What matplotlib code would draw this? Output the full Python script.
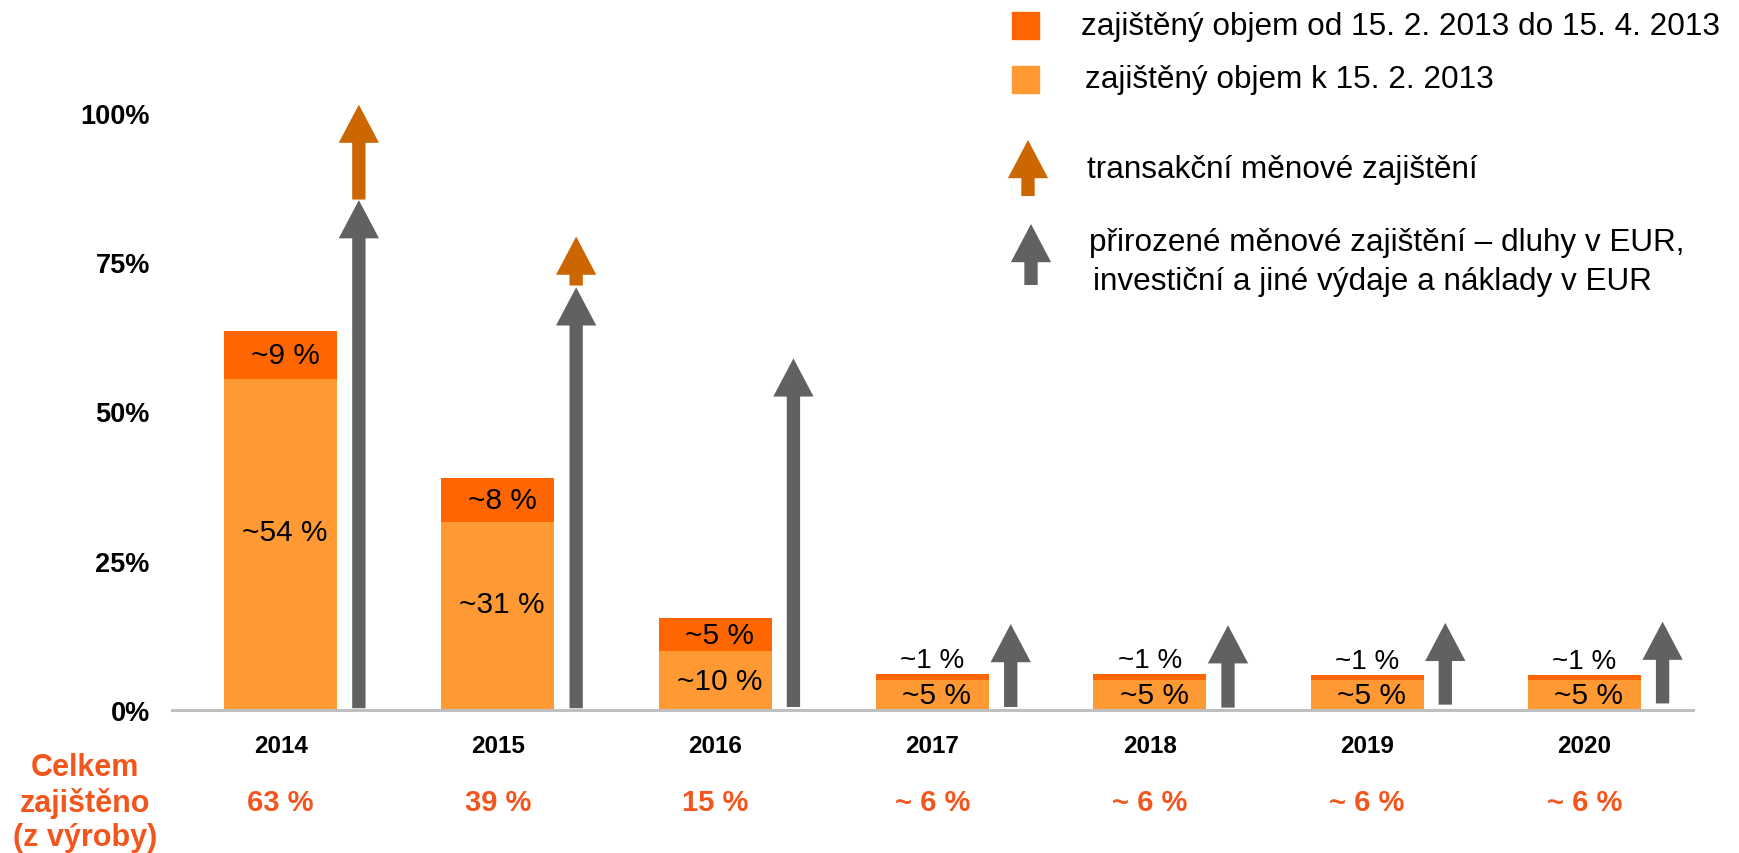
import matplotlib.pyplot as plt
from matplotlib.patches import FancyArrowPatch, Rectangle
from matplotlib.transforms import blended_transform_factory

plt.rcParams['font.family'] = ['Liberation Sans', 'DejaVu Sans']

# data
roky = ['2014', '2015', '2016', '2017', '2018', '2019', '2020']
objem_k_15_2 = [55.5, 31.5, 9.8, 5.1, 5.1, 5.0, 5.0]
objem_od_15_2 = [8.0, 7.4, 5.6, 1.0, 1.0, 0.9, 0.9]
popisky_k = ['~54 %', '~31 %', '~10 %', '~5 %', '~5 %', '~5 %', '~5 %']
popisky_od = ['~9 %', '~8 %', '~5 %', '~1 %', '~1 %', '~1 %', '~1 %']
celkem = ['63 %', '39 %', '15 %', '~ 6 %', '~ 6 %', '~ 6 %', '~ 6 %']
prirozene_od = [0.3, 0.3, 0.5, 0.5, 0.4, 0.9, 1.1]
prirozene_do = [85.4, 70.8, 58.9, 14.4, 14.2, 14.6, 14.8]
transakcni_od = [85.5, 71.1]
transakcni_do = [101.4, 79.3]

SVETLA = '#FF9933'
TMAVA = '#FF6600'
SEDA = '#616161'
HNEDA = '#CC6600'
CERVENA = '#F2561D'

W, H = 1739, 854
fig = plt.figure(figsize=(W / 100, H / 100), dpi=100)
ax = fig.add_axes([172 / W, 1 - 711 / H, (1693 - 172) / W, 711 / H])
x = list(range(len(roky)))

ax.bar(x, objem_k_15_2, width=0.52, color=SVETLA)
ax.bar(x, objem_od_15_2, width=0.52, bottom=objem_k_15_2, color=TMAVA)

for i in x:
    k = objem_k_15_2[i]
    od = objem_od_15_2[i]
    # popisek spodni casti trochu nad stredem, jako v originale
    yk = k / 2 + (2.0 if k > 20 else 0)
    ax.text(i + 0.02, yk, popisky_k[i], ha='center', va='center', fontsize=21.5)
    if od > 3:
        ax.text(i + 0.02, k + od / 2, popisky_od[i], ha='center', va='center', fontsize=21.5)
    else:
        ax.text(i, k + od + 0.1, popisky_od[i], ha='center', va='bottom', fontsize=20)


def sipka(x0, y0, x1, y1, barva, transform=None):
    kw = {}
    if transform is not None:
        kw['transform'] = transform
    p = FancyArrowPatch((x0, y0), (x1, y1),
                        arrowstyle='simple,head_length=27.5,head_width=29,tail_width=9.6',
                        mutation_scale=1, shrinkA=0, shrinkB=0,
                        color=barva, lw=0, clip_on=False, **kw)
    return p


for i in x:
    ax.add_patch(sipka(i + 0.36, prirozene_od[i], i + 0.36, prirozene_do[i], SEDA))
for i in range(len(transakcni_od)):
    ax.add_patch(sipka(i + 0.36, transakcni_od[i], i + 0.36, transakcni_do[i], HNEDA))

ax.set_xlim(-0.5, 6.5)
ax.set_ylim(0, 711 / 5.97)
for s in ['top', 'right', 'left']:
    ax.spines[s].set_visible(False)
ax.spines['bottom'].set_color('#BFBFBF')
ax.spines['bottom'].set_linewidth(2.2)

ax.set_yticks([0, 25, 50, 75, 100])
ax.set_yticklabels(['0%', '25%', '50%', '75%', '100%'], fontsize=19.5, fontweight='bold')
ax.tick_params(axis='y', length=0, pad=16)
ax.set_xticks(x)
ax.set_xticklabels(roky, fontsize=17.5, fontweight='bold')
ax.tick_params(axis='x', length=0, pad=17)

# souhrn pod osou
tr = blended_transform_factory(ax.transData, fig.transFigure)
for i in x:
    ax.text(i, 1 - 803 / H, celkem[i], transform=tr, ha='center', va='center',
            fontsize=21, fontweight='bold', color=CERVENA)
fig.text(85 / W, 1 - 803 / H, 'Celkem\nzajištěno\n(z výroby)', ha='center', va='center',
         multialignment='center', fontsize=22, fontweight='bold', color=CERVENA, linespacing=1.18)

# legenda
fig.patches.append(Rectangle((1012 / W, 1 - 40 / H), 27 / W, 27 / H, color=TMAVA,
                             transform=fig.transFigure, figure=fig))
fig.patches.append(Rectangle((1012 / W, 1 - 94 / H), 27 / W, 27 / H, color=SVETLA,
                             transform=fig.transFigure, figure=fig))
fig.patches.append(sipka(1028 / W, 1 - 197 / H, 1028 / W, 1 - 141 / H, HNEDA, fig.transFigure))
fig.patches.append(sipka(1031 / W, 1 - 286 / H, 1031 / W, 1 - 225 / H, SEDA, fig.transFigure))

fig.text(1081 / W, 1 - 27 / H, 'zajištěný objem od 15. 2. 2013 do 15. 4. 2013', va='center', fontsize=22.7)
fig.text(1085 / W, 1 - 80 / H, 'zajištěný objem k 15. 2. 2013', va='center', fontsize=22.7)
fig.text(1087 / W, 1 - 170 / H, 'transakční měnové zajištění', va='center', fontsize=22.7)
fig.text(1089 / W, 1 - 243 / H, 'přirozené měnové zajištění – dluhy v EUR,', va='center', fontsize=22.7)
fig.text(1093 / W, 1 - 282 / H, 'investiční a jiné výdaje a náklady v EUR', va='center', fontsize=22.7)

fig.savefig('out.png', dpi=100)
